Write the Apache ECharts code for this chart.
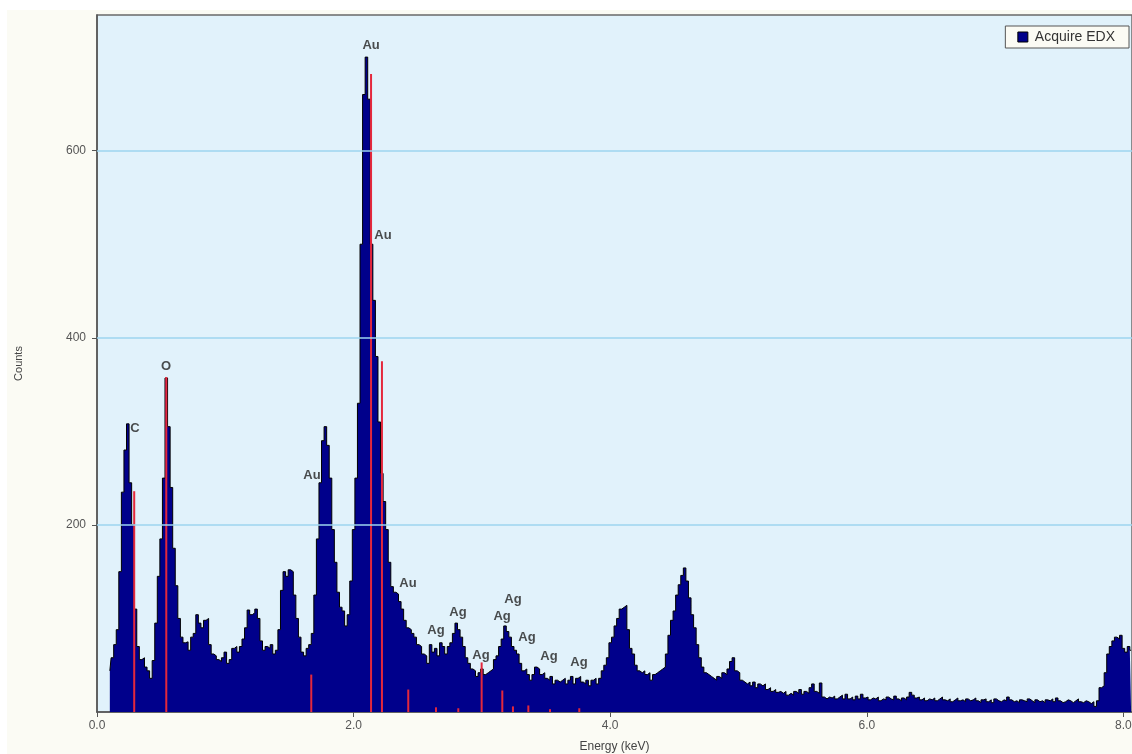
<!DOCTYPE html>
<html>
<head>
<meta charset="utf-8">
<script src="https://cdn.jsdelivr.net/npm/echarts@6/dist/echarts.min.js"></script>
<style>
  html, body { margin: 0; padding: 0; background: #ffffff; overflow: hidden; }
  #chart { position: absolute; left: 7px; top: 10px; width: 1125px; height: 744px; background: #fbfbf4; }
</style>
</head>
<body>
<div id="chart"></div>
<script>
// EDX spectrum: counts per 0.02 keV channel, first channel centred at 0.10 keV
const channelStart = 0.10;
const channelWidth = 0.02;
const counts = [
  44, 58, 72, 88, 150, 235, 280, 308, 245, 200,
  110, 70, 56, 58, 48, 44, 36, 55, 95, 145,
  185, 250, 357, 305, 240, 175, 135, 100, 80, 74,
  75, 66, 80, 84, 104, 95, 90, 98, 100, 72,
  62, 60, 56, 54, 58, 64, 52, 56, 68, 70,
  64, 70, 78, 90, 109, 104, 106, 110, 100, 76,
  66, 70, 68, 72, 62, 66, 88, 130, 150, 145,
  152, 150, 125, 100, 80, 64, 60, 68, 72, 84,
  125, 185, 245, 290, 305, 285, 250, 195, 160, 128,
  112, 108, 92, 104, 140, 195, 250, 330, 500, 660,
  700, 655, 500, 440, 380, 310, 255, 225, 195, 160,
  134, 128, 126, 118, 110, 98, 90, 88, 84, 80,
  72, 70, 62, 60, 52, 72, 64, 68, 60, 74,
  70, 62, 70, 74, 84, 95, 88, 80, 70, 58,
  52, 46, 44, 38, 42, 46, 40, 42, 44, 46,
  56, 60, 70, 78, 92, 86, 80, 70, 66, 62,
  52, 44, 46, 40, 34, 40, 48, 46, 40, 42,
  36, 34, 38, 30, 34, 32, 34, 36, 30, 34,
  38, 30, 36, 38, 32, 30, 34, 28, 34, 36,
  30, 36, 44, 50, 58, 74, 80, 92, 100, 110,
  112, 114, 88, 68, 62, 50, 44, 42, 44, 40,
  42, 34, 40, 42, 44, 46, 48, 62, 82, 98,
  108, 125, 136, 146, 154, 140, 122, 104, 90, 72,
  58, 48, 42, 40, 38, 36, 34, 38, 36, 42,
  40, 46, 54, 58, 44, 42, 34, 32, 30, 32,
  28, 32, 26, 30, 28, 30, 24, 26, 22, 24,
  21, 22, 20, 22, 18, 20, 18, 22, 20, 24,
  19, 22, 20, 26, 30, 22, 20, 31, 16, 14,
  16, 15, 17, 14, 16, 18, 14, 19, 14, 16,
  13, 17, 14, 19, 15, 16, 13, 15, 14, 16,
  12, 14, 13, 16, 14, 13, 17, 14, 12, 15,
  13, 16, 21, 18, 15, 16, 13, 15, 12, 14,
  13, 15, 12, 14, 16, 13, 12, 14, 11, 13,
  15, 12, 13, 11, 14, 12, 13, 15, 12, 10,
  13, 14, 11, 13, 10, 14, 12, 11, 13, 12,
  16, 13, 11, 12, 10, 13, 12, 11, 14, 12,
  10, 13, 11, 12, 10, 13, 12, 14, 11, 15,
  12, 10, 11, 13, 12, 10, 12, 14, 11, 10,
  12, 11, 9, 11, 6, 12, 26, 28, 42, 62,
  70, 76, 80, 78, 82, 68, 64, 70, 66
];

// element line markers (energy in keV, marker height in counts)
const markerEnergy = [0.29, 0.54, 1.67, 2.136, 2.221, 2.426, 2.642, 2.816, 2.998, 3.159, 3.242, 3.362, 3.531, 3.759];
const markerHeight = [236, 358, 40, 682, 375, 24, 5, 4, 53, 23, 6, 7, 3, 4];

// peak identification labels (text, energy, counts of label centre)
const peakNames  = ['Au', 'Au', 'C', 'O', 'Au', 'Au', 'Ag', 'Ag', 'Ag', 'Ag', 'Ag', 'Ag', 'Ag', 'Ag'];
const peakEnergy = [2.136, 2.229, 0.295, 0.538, 1.676, 2.424, 2.642, 2.814, 2.993, 3.157, 3.242, 3.351, 3.523, 3.757];
const peakCounts = [712, 509, 303, 369, 253, 137, 87, 106, 61, 102, 120, 80, 59, 53];

const xTicks = [0, 2, 4, 6, 8];
const yTicks = [200, 400, 600];

const spectrum = counts.map((c, i) => [+(channelStart + i * channelWidth).toFixed(3), c]);
const markers = markerEnergy.map((e, i) => [e, markerHeight[i]]);
const peakLabels = peakEnergy.map((e, i) => ({ value: [e, peakCounts[i]], name: peakNames[i] }));

const font = "'Liberation Sans', Arial, sans-serif";
const chart = echarts.init(document.getElementById('chart'), null, { renderer: 'canvas' });
chart.setOption({
  animation: false,
  backgroundColor: '#fbfbf4',
  textStyle: { fontFamily: font },
  grid: {
    left: 90, top: 5, right: 0, bottom: 42,
    outerBoundsMode: 'none',
    containLabel: false,
    show: true,
    backgroundColor: '#e1f2fb',
    borderColor: '#6a6a6a',
    borderWidth: 1.5
  },
  legend: {
    right: 3, top: 16,
    data: ['Acquire EDX'],
    icon: 'rect',
    itemWidth: 10, itemHeight: 10,
    padding: [4, 14, 4, 12],
    backgroundColor: '#fbfbf4',
    borderColor: '#555',
    borderWidth: 1,
    itemStyle: { color: '#00008b', borderColor: '#000', borderWidth: 1 },
    textStyle: { fontFamily: font, fontSize: 14, color: '#333', padding: [0, 0, 0, 2] }
  },
  xAxis: {
    type: 'value',
    min: 0, max: 8.067,
    name: 'Energy (keV)',
    nameLocation: 'middle',
    nameGap: 29,
    nameTextStyle: { fontFamily: font, fontSize: 12, color: '#444' },
    axisLine: { lineStyle: { color: '#555', width: 1.5 } },
    axisTick: { show: true, length: 5, lineStyle: { color: '#555' }, customValues: xTicks },
    axisLabel: {
      color: '#555', fontSize: 12, fontFamily: font, margin: 8,
      customValues: xTicks,
      formatter: v => v.toFixed(1)
    },
    splitLine: { show: false }
  },
  yAxis: {
    type: 'value',
    min: 0, max: 745,
    name: 'Counts',
    nameLocation: 'middle',
    nameRotate: 90,
    nameGap: 73,
    nameTextStyle: { fontFamily: font, fontSize: 11, color: '#444' },
    axisLine: { show: true, lineStyle: { color: '#555', width: 1.5 } },
    axisTick: { show: true, length: 5, lineStyle: { color: '#555' }, customValues: yTicks },
    axisLabel: {
      color: '#555', fontSize: 12, fontFamily: font, margin: 11,
      customValues: yTicks,
      formatter: v => String(v)
    },
    splitLine: { show: false }
  },
  series: [
    {
      // horizontal guide lines at the labelled count levels
      type: 'line',
      silent: true,
      data: [],
      markLine: {
        silent: true,
        symbol: 'none',
        label: { show: false },
        lineStyle: { color: '#9dd5ef', type: 'solid', width: 1.5 },
        data: yTicks.map(v => ({ yAxis: v }))
      }
    },
    {
      name: 'Acquire EDX',
      type: 'line',
      step: 'middle',
      data: spectrum,
      symbol: 'none',
      color: '#00008b',
      lineStyle: { color: '#000000', width: 1 },
      areaStyle: { color: '#00008b', opacity: 1 },
      z: 3
    },
    {
      name: 'markers',
      type: 'bar',
      data: markers,
      barWidth: 2,
      itemStyle: { color: '#e4283c' },
      z: 4
    },
    {
      name: 'labels',
      type: 'scatter',
      data: peakLabels,
      symbolSize: 0,
      z: 5,
      label: {
        show: true,
        position: 'inside',
        formatter: p => p.name,
        fontFamily: font,
        fontWeight: 'bold',
        fontSize: 13,
        color: '#222'
      }
    }
  ]
});
</script>
</body>
</html>
